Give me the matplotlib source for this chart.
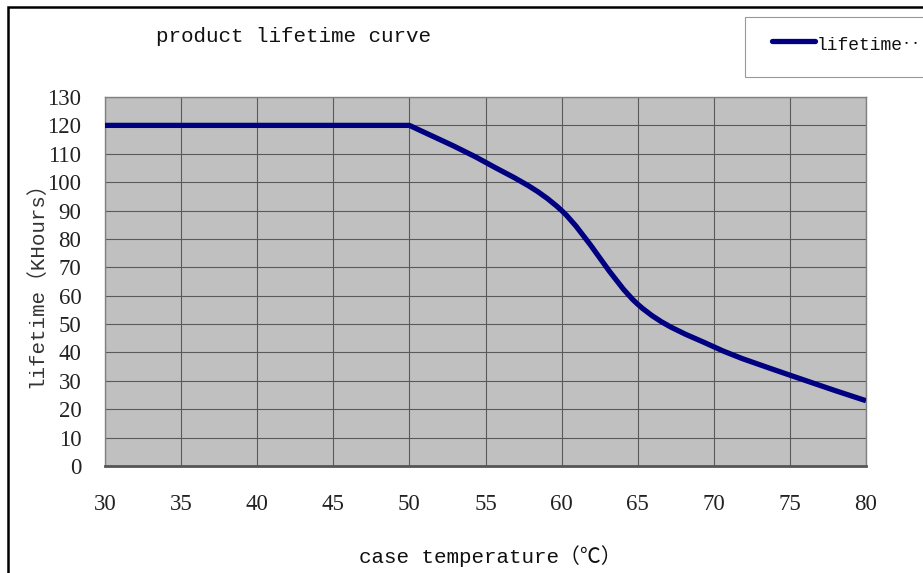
import matplotlib
matplotlib.use("Agg")
import matplotlib.pyplot as plt
from matplotlib.path import Path
from matplotlib.patches import PathPatch, Rectangle
from matplotlib.lines import Line2D
import numpy as np

temperature = [30, 35, 40, 45, 50, 55, 60, 65, 70, 75, 80]
lifetime = [120, 120, 120, 120, 120, 107, 90, 57, 42, 32, 23]
x_ticks = [30, 35, 40, 45, 50, 55, 60, 65, 70, 75, 80]
y_ticks = list(range(0, 131, 10))
title = "product lifetime curve"
x_label = "case temperature（℃）"
y_label = "lifetime（KHours）"
legend_label = "lifetime‥"

W, H = 923, 573
fig = plt.figure(figsize=(W / 100, H / 100), dpi=100)
fig.patch.set_facecolor("white")

mono = ["Liberation Mono", "Noto Sans CJK SC", "DejaVu Sans"]
serif = ["Liberation Serif", "DejaVu Serif"]

# outer chart border
fig.patches.append(Rectangle((8 / W, -0.1), 1.2, 1 - 7 / H + 0.1, transform=fig.transFigure,
                             facecolor="none", edgecolor="black", linewidth=1.8, zorder=0))

ax = fig.add_axes([105 / W, 1 - 466 / H, 761 / W, 369 / H])
ax.set_facecolor("#C0C0C0")
ax.set_xlim(30, 80)
ax.set_ylim(0, 130)
ax.set_xticks(x_ticks)
ax.set_yticks(y_ticks)
ax.set_xticklabels([str(v) for v in x_ticks], fontfamily=serif, fontsize=16.5)
ax.set_yticklabels([str(v) for v in y_ticks], fontfamily=serif, fontsize=16.5)
ax.tick_params(axis="both", length=0, colors="#222222")
ax.tick_params(axis="y", pad=17)
ax.tick_params(axis="x", pad=20)
ax.grid(True, color="#5a5a5a", linewidth=0.8)
ax.set_axisbelow(True)
for s in ["top", "right", "left"]:
    ax.spines[s].set_color("#808080")
    ax.spines[s].set_linewidth(1.0)
ax.spines["bottom"].set_color("#555555")
ax.spines["bottom"].set_linewidth(2.0)

# line: straight while flat, then smoothed (Bezier through the data points)
xs = np.array(temperature, dtype=float)
ys = np.array(lifetime, dtype=float)
n = len(xs)
flat_end = max(i for i in range(n) if ys[i] == ys[0])
verts = [(xs[0], ys[0])]
codes = [Path.MOVETO]
for i in range(n - 1):
    p1 = np.array([xs[i], ys[i]])
    p2 = np.array([xs[i + 1], ys[i + 1]])
    if i < flat_end:
        verts.append(tuple(p2))
        codes.append(Path.LINETO)
        continue
    p0 = p1 if i == flat_end else np.array([xs[i - 1], ys[i - 1]])
    p3 = np.array([xs[min(i + 2, n - 1)], ys[min(i + 2, n - 1)]])
    c1 = p1 + (p2 - p0) / 6.0
    c2 = p2 - (p3 - p1) / 6.0
    verts += [tuple(c1), tuple(c2), tuple(p2)]
    codes += [Path.CURVE4, Path.CURVE4, Path.CURVE4]
curve = PathPatch(Path(verts, codes), facecolor="none", edgecolor="#000080",
                  linewidth=3.8, capstyle="butt", joinstyle="round", zorder=3)
ax.add_patch(curve)

fig.text(293 / W, 1 - 37 / H, title, ha="center", va="center", fontfamily=mono,
         fontsize=15, color="#111111")
fig.text(490 / W, 1 - 556 / H, x_label, ha="center", va="center", fontfamily=mono,
         fontsize=15, color="#111111")
fig.text(36 / W, 1 - 280 / H, y_label, ha="center", va="center", rotation=90,
         fontfamily=mono, fontsize=15, color="#333333")

# legend box
fig.patches.append(Rectangle((745 / W, 1 - 77 / H), 200 / W, 60 / H, transform=fig.transFigure,
                             facecolor="white", edgecolor="#999999", linewidth=0.8, zorder=1))
fig.lines.append(Line2D([772 / W, 815 / W], [1 - 41 / H, 1 - 41 / H], transform=fig.transFigure,
                        color="#000080", linewidth=3.8, solid_capstyle="round", zorder=2))
fig.text(817 / W, 1 - 45 / H, legend_label, ha="left", va="center", fontfamily=mono,
         fontsize=13, color="#111111", zorder=3)

fig.savefig("out.png", dpi=100)
